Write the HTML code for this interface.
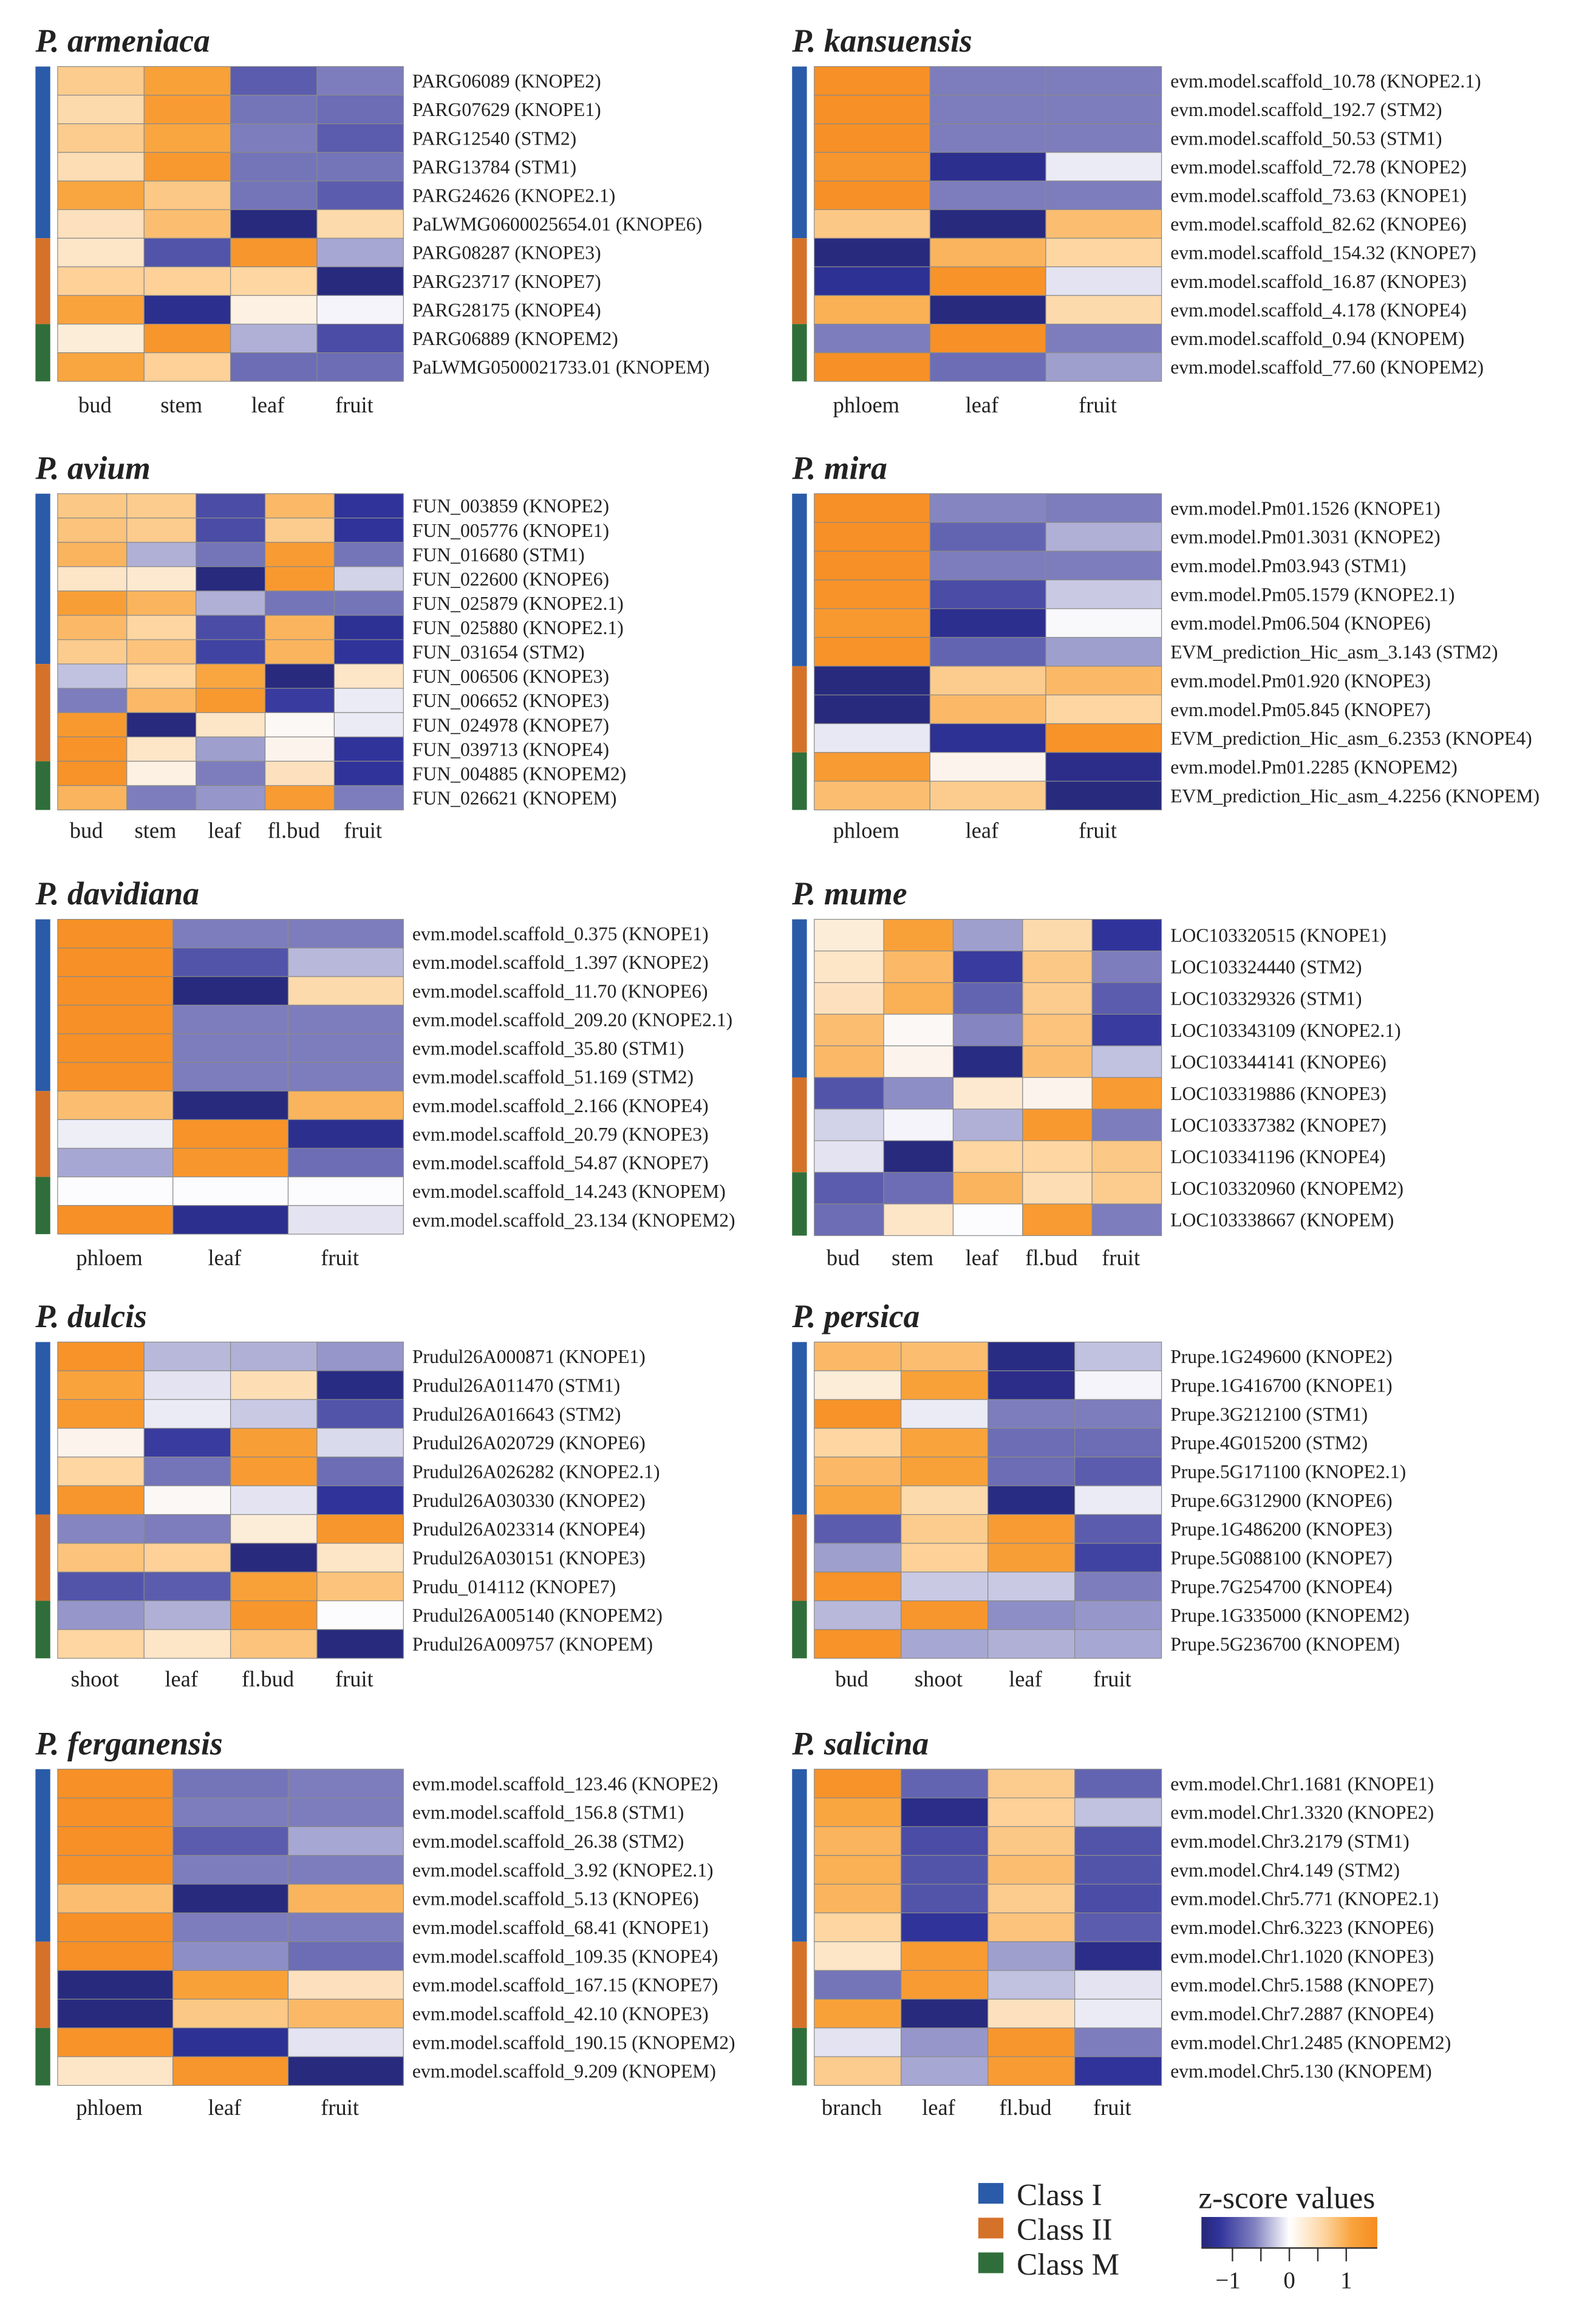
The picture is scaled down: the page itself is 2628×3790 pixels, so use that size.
<!DOCTYPE html>
<html><head><meta charset="utf-8"><style>
html,body{margin:0;padding:0;background:#fff;}
svg{display:block;}
text{font-family:"Liberation Serif",serif;fill:#222;}
</style></head>
<body>
<svg id="fig" xmlns="http://www.w3.org/2000/svg" width="2628" height="3790" viewBox="0 0 1080 1557.5">
<defs>
<linearGradient id="zgrad" x1="0" x2="1" y1="0" y2="0">
<stop offset="0" stop-color="#262878"/><stop offset="0.1" stop-color="#30339a"/><stop offset="0.3" stop-color="#8080c0"/><stop offset="0.5" stop-color="#ffffff"/><stop offset="0.7" stop-color="#fdd49e"/><stop offset="0.85" stop-color="#f9a540"/><stop offset="1" stop-color="#f68b1f"/>
</linearGradient>
</defs>
</svg>
<script>
// ---- data ----
const armeniacaCols = ["bud","stem","leaf","fruit"];
const armeniacaGenes = ["PARG06089 (KNOPE2)","PARG07629 (KNOPE1)","PARG12540 (STM2)","PARG13784 (STM1)","PARG24626 (KNOPE2.1)","PaLWMG0600025654.01 (KNOPE6)","PARG08287 (KNOPE3)","PARG23717 (KNOPE7)","PARG28175 (KNOPE4)","PARG06889 (KNOPEM2)","PaLWMG0500021733.01 (KNOPEM)"];
const armeniacaClasses = [6,3,2];
const armeniacaValues = [[0.6,1.1,-0.95,-0.75],[0.45,1.2,-0.8,-0.85],[0.6,1.0,-0.75,-0.95],[0.4,1.25,-0.8,-0.8],[1.0,0.65,-0.8,-0.95],[0.35,0.75,-1.45,0.45],[0.3,-1.0,1.3,-0.5],[0.55,0.55,0.5,-1.45],[1.05,-1.3,0.15,-0.05],[0.2,1.3,-0.45,-1.05],[1.0,0.55,-0.85,-0.85]];

const kansuensisCols = ["phloem","leaf","fruit"];
const kansuensisGenes = ["evm.model.scaffold_10.78 (KNOPE2.1)","evm.model.scaffold_192.7 (STM2)","evm.model.scaffold_50.53 (STM1)","evm.model.scaffold_72.78 (KNOPE2)","evm.model.scaffold_73.63 (KNOPE1)","evm.model.scaffold_82.62 (KNOPE6)","evm.model.scaffold_154.32 (KNOPE7)","evm.model.scaffold_16.87 (KNOPE3)","evm.model.scaffold_4.178 (KNOPE4)","evm.model.scaffold_0.94 (KNOPEM)","evm.model.scaffold_77.60 (KNOPEM2)"];
const kansuensisClasses = [6,3,2];
const kansuensisValues = [[1.4,-0.75,-0.75],[1.4,-0.75,-0.75],[1.4,-0.75,-0.75],[1.3,-1.3,-0.1],[1.4,-0.75,-0.75],[0.65,-1.45,0.75],[-1.45,0.85,0.5],[-1.25,1.35,-0.15],[0.9,-1.45,0.45],[-0.75,1.4,-0.75],[1.4,-0.85,-0.55]];

const aviumCols = ["bud","stem","leaf","fl.bud","fruit"];
const aviumGenes = ["FUN_003859 (KNOPE2)","FUN_005776 (KNOPE1)","FUN_016680 (STM1)","FUN_022600 (KNOPE6)","FUN_025879 (KNOPE2.1)","FUN_025880 (KNOPE2.1)","FUN_031654 (STM2)","FUN_006506 (KNOPE3)","FUN_006652 (KNOPE3)","FUN_024978 (KNOPE7)","FUN_039713 (KNOPE4)","FUN_004885 (KNOPEM2)","FUN_026621 (KNOPEM)"];
const aviumClasses = [7,4,2];
const aviumValues = [[0.65,0.6,-1.05,0.8,-1.2],[0.7,0.6,-1.05,0.6,-1.2],[0.85,-0.45,-0.8,1.2,-0.8],[0.3,0.25,-1.45,1.25,-0.25],[1.15,0.85,-0.45,-0.8,-0.8],[0.8,0.5,-1.05,0.85,-1.25],[0.6,0.7,-1.1,0.85,-1.2],[-0.35,0.5,1.0,-1.45,0.3],[-0.75,0.8,1.25,-1.15,-0.1],[1.25,-1.45,0.3,0.05,-0.1],[1.35,0.3,-0.55,0.1,-1.2],[1.35,0.15,-0.75,0.35,-1.2],[0.85,-0.75,-0.6,1.2,-0.75]];

const miraCols = ["phloem","leaf","fruit"];
const miraGenes = ["evm.model.Pm01.1526 (KNOPE1)","evm.model.Pm01.3031 (KNOPE2)","evm.model.Pm03.943 (STM1)","evm.model.Pm05.1579 (KNOPE2.1)","evm.model.Pm06.504 (KNOPE6)","EVM_prediction_Hic_asm_3.143 (STM2)","evm.model.Pm01.920 (KNOPE3)","evm.model.Pm05.845 (KNOPE7)","EVM_prediction_Hic_asm_6.2353 (KNOPE4)","evm.model.Pm01.2285 (KNOPEM2)","EVM_prediction_Hic_asm_4.2256 (KNOPEM)"];
const miraClasses = [6,3,2];
const miraValues = [[1.4,-0.7,-0.75],[1.4,-0.9,-0.45],[1.4,-0.75,-0.75],[1.35,-1.05,-0.3],[1.25,-1.3,-0.02],[1.35,-0.9,-0.55],[-1.45,0.6,0.8],[-1.45,0.8,0.5],[-0.12,-1.25,1.35],[1.2,0.1,-1.35],[0.75,0.6,-1.45]];

const davidianaCols = ["phloem","leaf","fruit"];
const davidianaGenes = ["evm.model.scaffold_0.375 (KNOPE1)","evm.model.scaffold_1.397 (KNOPE2)","evm.model.scaffold_11.70 (KNOPE6)","evm.model.scaffold_209.20 (KNOPE2.1)","evm.model.scaffold_35.80 (STM1)","evm.model.scaffold_51.169 (STM2)","evm.model.scaffold_2.166 (KNOPE4)","evm.model.scaffold_20.79 (KNOPE3)","evm.model.scaffold_54.87 (KNOPE7)","evm.model.scaffold_14.243 (KNOPEM)","evm.model.scaffold_23.134 (KNOPEM2)"];
const davidianaClasses = [6,3,2];
const davidianaValues = [[1.4,-0.75,-0.75],[1.4,-1.0,-0.4],[1.4,-1.45,0.45],[1.4,-0.75,-0.75],[1.4,-0.75,-0.75],[1.4,-0.75,-0.75],[0.75,-1.45,0.85],[-0.08,1.35,-1.3],[-0.5,1.3,-0.85],[0,0,0],[1.4,-1.3,-0.15]];

const mumeCols = ["bud","stem","leaf","fl.bud","fruit"];
const mumeGenes = ["LOC103320515 (KNOPE1)","LOC103324440 (STM2)","LOC103329326 (STM1)","LOC103343109 (KNOPE2.1)","LOC103344141 (KNOPE6)","LOC103319886 (KNOPE3)","LOC103337382 (KNOPE7)","LOC103341196 (KNOPE4)","LOC103320960 (KNOPEM2)","LOC103338667 (KNOPEM)"];
const mumeClasses = [5,3,2];
const mumeValues = [[0.2,1.1,-0.55,0.45,-1.2],[0.3,0.8,-1.15,0.65,-0.75],[0.35,0.9,-0.9,0.6,-0.95],[0.75,0.05,-0.7,0.7,-1.15],[0.8,0.1,-1.4,0.75,-0.35],[-1.0,-0.65,0.25,0.1,1.2],[-0.25,-0.05,-0.45,1.25,-0.75],[-0.15,-1.45,0.5,0.5,0.65],[-0.95,-0.85,0.85,0.4,0.6],[-0.85,0.3,0.0,1.2,-0.75]];

const dulcisCols = ["shoot","leaf","fl.bud","fruit"];
const dulcisGenes = ["Prudul26A000871 (KNOPE1)","Prudul26A011470 (STM1)","Prudul26A016643 (STM2)","Prudul26A020729 (KNOPE6)","Prudul26A026282 (KNOPE2.1)","Prudul26A030330 (KNOPE2)","Prudul26A023314 (KNOPE4)","Prudul26A030151 (KNOPE3)","Prudu_014112 (KNOPE7)","Prudul26A005140 (KNOPEM2)","Prudul26A009757 (KNOPEM)"];
const dulcisClasses = [6,3,2];
const dulcisValues = [[1.35,-0.4,-0.45,-0.6],[1.05,-0.15,0.4,-1.4],[1.25,-0.1,-0.3,-1.0],[0.1,-1.15,1.15,-0.2],[0.5,-0.8,1.2,-0.85],[1.3,0.05,-0.15,-1.2],[-0.7,-0.75,0.2,1.3],[0.7,0.55,-1.45,0.3],[-1.0,-0.95,1.1,0.7],[-0.6,-0.45,1.3,0.0],[0.5,0.3,0.7,-1.45]];

const persicaCols = ["bud","shoot","leaf","fruit"];
const persicaGenes = ["Prupe.1G249600 (KNOPE2)","Prupe.1G416700 (KNOPE1)","Prupe.3G212100 (STM1)","Prupe.4G015200 (STM2)","Prupe.5G171100 (KNOPE2.1)","Prupe.6G312900 (KNOPE6)","Prupe.1G486200 (KNOPE3)","Prupe.5G088100 (KNOPE7)","Prupe.7G254700 (KNOPE4)","Prupe.1G335000 (KNOPEM2)","Prupe.5G236700 (KNOPEM)"];
const persicaClasses = [6,3,2];
const persicaValues = [[0.8,0.75,-1.4,-0.35],[0.2,1.1,-1.35,-0.05],[1.35,-0.1,-0.75,-0.75],[0.5,1.05,-0.85,-0.85],[0.8,1.1,-0.85,-0.95],[1.0,0.45,-1.4,-0.1],[-0.95,0.6,1.2,-0.95],[-0.55,0.55,1.15,-1.1],[1.35,-0.3,-0.3,-0.75],[-0.4,1.3,-0.65,-0.6],[1.35,-0.5,-0.45,-0.5]];

const ferganensisCols = ["phloem","leaf","fruit"];
const ferganensisGenes = ["evm.model.scaffold_123.46 (KNOPE2)","evm.model.scaffold_156.8 (STM1)","evm.model.scaffold_26.38 (STM2)","evm.model.scaffold_3.92 (KNOPE2.1)","evm.model.scaffold_5.13 (KNOPE6)","evm.model.scaffold_68.41 (KNOPE1)","evm.model.scaffold_109.35 (KNOPE4)","evm.model.scaffold_167.15 (KNOPE7)","evm.model.scaffold_42.10 (KNOPE3)","evm.model.scaffold_190.15 (KNOPEM2)","evm.model.scaffold_9.209 (KNOPEM)"];
const ferganensisClasses = [6,3,2];
const ferganensisValues = [[1.4,-0.8,-0.75],[1.4,-0.75,-0.75],[1.4,-0.95,-0.5],[1.4,-0.75,-0.75],[0.75,-1.45,0.85],[1.4,-0.75,-0.75],[1.4,-0.65,-0.85],[-1.45,1.1,0.35],[-1.45,0.65,0.8],[1.35,-1.25,-0.15],[0.3,1.3,-1.45]];

const salicinaCols = ["branch","leaf","fl.bud","fruit"];
const salicinaGenes = ["evm.model.Chr1.1681 (KNOPE1)","evm.model.Chr1.3320 (KNOPE2)","evm.model.Chr3.2179 (STM1)","evm.model.Chr4.149 (STM2)","evm.model.Chr5.771 (KNOPE2.1)","evm.model.Chr6.3223 (KNOPE6)","evm.model.Chr1.1020 (KNOPE3)","evm.model.Chr5.1588 (KNOPE7)","evm.model.Chr7.2887 (KNOPE4)","evm.model.Chr1.2485 (KNOPEM2)","evm.model.Chr5.130 (KNOPEM)"];
const salicinaClasses = [6,3,2];
const salicinaValues = [[1.35,-0.9,0.6,-0.9],[1.0,-1.35,0.55,-0.35],[0.85,-1.05,0.65,-1.0],[0.9,-1.0,0.75,-1.0],[0.85,-1.0,0.6,-1.05],[0.5,-1.2,0.7,-0.95],[0.3,1.2,-0.55,-1.35],[-0.8,1.2,-0.35,-0.15],[1.1,-1.45,0.35,-0.1],[-0.15,-0.6,1.3,-0.75],[0.6,-0.5,1.2,-1.2]];

const legendClassNames = ["Class I","Class II","Class M"];
const legendTicks = [-1,0,1];

// ---- drawing ----
const NS = "http://www.w3.org/2000/svg";
const svg = document.getElementById("fig");
function mk(tag, attrs, parent){ const e=document.createElementNS(NS,tag); for(const k in attrs) e.setAttribute(k,attrs[k]); (parent||svg).appendChild(e); return e; }
function hex(h){return [parseInt(h.slice(1,3),16),parseInt(h.slice(3,5),16),parseInt(h.slice(5,7),16)];}
const stops=[[-1.5,"#262878"],[-1.2,"#30339a"],[-0.75,"#7d7dbd"],[0,"#fcfcfe"],[0.5,"#fdd6a2"],[1.0,"#f9a640"],[1.5,"#f68b1f"]];
function color(v){
  v=Math.max(-1.5,Math.min(1.5,v));
  for(let i=0;i<stops.length-1;i++){
    if(v<=stops[i+1][0]){const t=(v-stops[i][0])/(stops[i+1][0]-stops[i][0]);const a=hex(stops[i][1]),b=hex(stops[i+1][1]);
      return "rgb("+a.map((x,j)=>Math.round(x+(b[j]-x)*t)).join(",")+")";}
  }
  return stops[stops.length-1][1];
}
const classColors=["#2a5ba8","#d4722a","#2f6e3a"];

function panel(title, cols, genes, classes, values, left, top, bottom, labelY){
  const g=mk("g",{});
  
  
  const hx = left ? 39 : 551, hw = left ? 234 : 235, bx = left ? 24 : 536;
  const t=mk("text",{x:bx,y:top-10,"font-size":22,"font-style":"italic","font-weight":"bold"},g);
  t.textContent=title;
  
  
  const n=genes.length, rh=(bottom-top)/n, cw=hw/cols.length;
  const yOf=i=>top+i*rh, xOf=j=>hx+j*cw;
  // class bar
  let r=0;
  classes.forEach((c,k)=>{
    const cb=mk("rect",{x:bx,y:yOf(r),width:10,height:c*rh,fill:classColors[k]},g);
    
    
    r+=c;
  });
  values.forEach((row,i)=>{
    row.forEach((v,j)=>{
      const c=mk("rect",{x:xOf(j),y:yOf(i),width:cw,height:rh,fill:color(v),stroke:"#8a8a8a","stroke-width":0.5},g);
      
      
    });
    const lt=mk("text",{x:hx+hw+6,y:yOf(i)+rh/2+4.5,"font-size":13},g);
    lt.textContent=genes[i];
    
    
  });
  cols.forEach((c,j)=>{
    const ct=mk("text",{x:xOf(j)+cw/2-4,y:labelY,"font-size":15,"text-anchor":"middle"},g);
    ct.textContent=c;
    
    
  });
}
panel("P. armeniaca",armeniacaCols,armeniacaGenes,armeniacaClasses,armeniacaValues,true,45,258,279);
panel("P. kansuensis",kansuensisCols,kansuensisGenes,kansuensisClasses,kansuensisValues,false,45,258,279);
panel("P. avium",aviumCols,aviumGenes,aviumClasses,aviumValues,true,334,548,567);
panel("P. mira",miraCols,miraGenes,miraClasses,miraValues,false,334,548,567);
panel("P. davidiana",davidianaCols,davidianaGenes,davidianaClasses,davidianaValues,true,622,835,856);
panel("P. mume",mumeCols,mumeGenes,mumeClasses,mumeValues,false,622,836,856);
panel("P. dulcis",dulcisCols,dulcisGenes,dulcisClasses,dulcisValues,true,908,1122,1141);
panel("P. persica",persicaCols,persicaGenes,persicaClasses,persicaValues,false,908,1122,1141);
panel("P. ferganensis",ferganensisCols,ferganensisGenes,ferganensisClasses,ferganensisValues,true,1197,1411,1431);
panel("P. salicina",salicinaCols,salicinaGenes,salicinaClasses,salicinaValues,false,1197,1411,1431);

// legend
const lg=mk("g",{});


legendClassNames.forEach((nm,k)=>{
  const sq=mk("rect",{x:662,y:1477+k*23.5,width:17,height:14,fill:classColors[k]},lg);
  
  
  const tx=mk("text",{x:688,y:1492+k*23.5,"font-size":21},lg);
  tx.textContent=nm;
  
  
});
const zg=mk("g",{});


const zt=mk("text",{x:811,y:1494,"font-size":21},zg);
zt.textContent="z-score values";


const zb=mk("rect",{x:813,y:1500,width:119,height:21,fill:"url(#zgrad)"},zg);


mk("line",{x1:813,x2:932,y1:1521,y2:1521,stroke:"#333","stroke-width":1},zg);
const zx=v=>872.5+v*38.5;
[-1,-0.5,0,0.5,1].forEach(v=>{mk("line",{x1:zx(v),x2:zx(v),y1:1521,y2:1530,stroke:"#333","stroke-width":1},zg);});
legendTicks.forEach(v=>{
  const tl=mk("text",{x:zx(v)-(v<0?3:0),y:1548,"font-size":16,"text-anchor":"middle"},zg);
  tl.textContent=v<0?"\u2212"+Math.abs(v):String(v);
  
  
});
</script>
</body></html>
